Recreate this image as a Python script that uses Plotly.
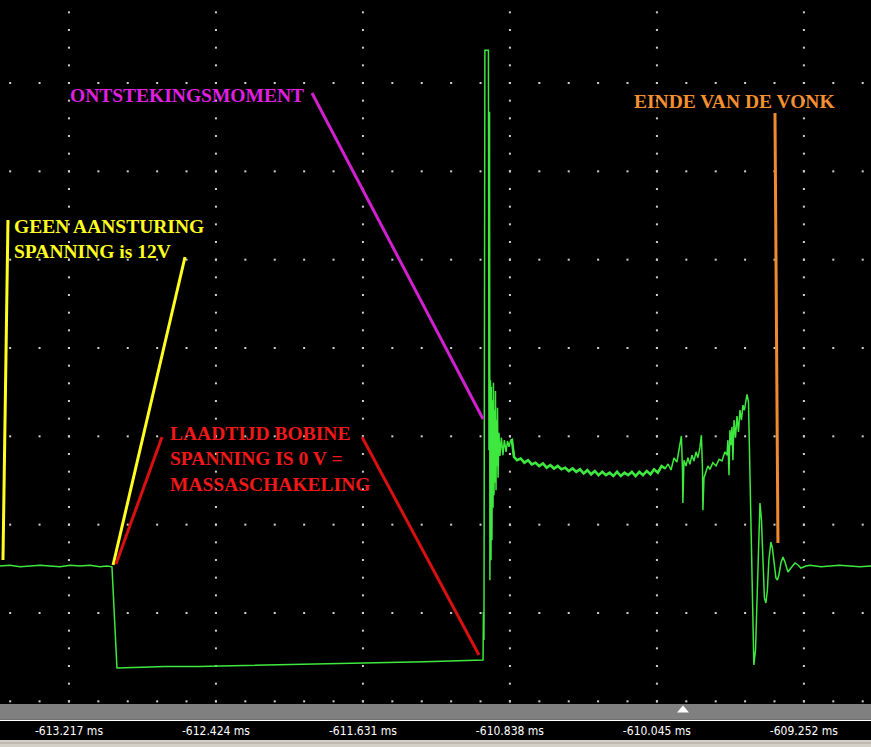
import numpy as np
import plotly.graph_objects as go

# ---------------- data (time in ms, voltage in V) ----------------
IDLE_T = [-613.589, -613.535, -613.481, -613.427, -613.373, -613.319, -613.265,
          -613.211, -613.157, -613.103, -613.050, -613.012, -612.985]
IDLE_V = [12.0, 12.1, 11.9, 12.0, 12.1, 12.0, 11.9, 12.1, 12.0, 12.1, 11.9, 12.0, 11.9]

DWELL_T = [-612.958, -612.900, -612.840, -612.780, -612.700, -612.600, -612.510,
           -612.400, -612.300, -612.240, -612.150, -612.050, -611.971, -611.850,
           -611.701, -611.600, -611.500, -611.431, -611.300, -611.161, -611.050, -610.989]
DWELL_V = [-0.24, -0.18, -0.10, -0.12, -0.06, -0.10, -0.06, 0.00, 0.04, 0.06, 0.10,
           0.12, 0.18, 0.22, 0.30, 0.34, 0.38, 0.42, 0.50, 0.60, 0.66, 0.72]

SPIKE_T = [-610.983, -610.981, -610.978, -610.973, -610.954, -610.951, -610.948,
           -610.946, -610.943, -610.940, -610.938, -610.935, -610.932, -610.929,
           -610.927, -610.924, -610.922, -610.919, -610.916, -610.913, -610.911,
           -610.908, -610.905, -610.902, -610.897, -610.892, -610.884, -610.876,
           -610.868, -610.859, -610.851, -610.843, -610.835, -610.827, -610.816]
SPIKE_V = [0.72, 6.48, 3.12, 73.9, 73.9, 25.9, 66.5, 10.3, 34.3, 12.7, 33.5, 15.1,
           31.9, 19.0, 34.0, 20.5, 30.7, 22.0, 33.0, 21.1, 29.5, 24.0, 31.0, 22.6,
           28.0, 25.2, 27.4, 25.3, 27.1, 25.7, 27.0, 26.3, 27.0, 27.1, 25.1]

BURN_T = [-610.80, -610.78, -610.76, -610.74, -610.72, -610.70, -610.68, -610.66,
          -610.64, -610.62, -610.60, -610.58, -610.56, -610.54, -610.52, -610.50,
          -610.48, -610.46, -610.44, -610.42, -610.40, -610.38, -610.36, -610.34,
          -610.32, -610.30, -610.28, -610.26, -610.24, -610.22, -610.20, -610.18,
          -610.16, -610.14, -610.12, -610.10, -610.08, -610.06, -610.04, -610.02, -610.00]
BURN_V = [24.7, 24.9, 24.4, 24.7, 24.2, 24.4, 24.0, 24.3, 23.8, 24.1, 23.7, 24.0,
          23.6, 23.8, 23.4, 23.7, 23.3, 23.6, 23.1, 23.5, 23.0, 23.4, 22.9, 23.3,
          22.9, 23.2, 22.8, 23.3, 22.8, 23.2, 22.9, 23.3, 22.8, 23.3, 22.9, 23.4,
          23.0, 23.6, 23.2, 24.0, 23.7]

END_T = [-609.985, -609.969, -609.953, -609.937, -609.921, -609.913, -609.907,
         -609.905, -609.899, -609.888, -609.878, -609.867, -609.856, -609.845,
         -609.834, -609.824, -609.813, -609.805, -609.799, -609.797, -609.791,
         -609.780, -609.770, -609.759, -609.743, -609.726, -609.710, -609.694,
         -609.678, -609.667, -609.662, -609.656, -609.651, -609.646, -609.640,
         -609.635, -609.629, -609.621, -609.613, -609.605, -609.597, -609.589,
         -609.581, -609.573, -609.565, -609.559, -609.551]
END_V = [24.24, 23.52, 24.96, 24.48, 26.52, 27.6, 23.5, 19.56, 24.7, 24.0, 25.0,
         24.2, 25.3, 24.6, 25.7, 25.0, 26.2, 27.7, 23.5, 18.7, 22.6, 23.5, 24.0,
         23.6, 24.4, 24.0, 24.8, 24.6, 25.7, 25.3, 27.1, 22.9, 28.3, 26.5, 28.7,
         24.7, 29.5, 27.4, 30.0, 28.1, 30.7, 29.5, 31.3, 30.7, 32.2, 32.6, 31.7]

RING_T = [-609.543, -609.538, -609.530, -609.522, -609.513, -609.505, -609.497,
          -609.489, -609.481, -609.473, -609.465, -609.457, -609.449, -609.441,
          -609.435, -609.430, -609.422, -609.411, -609.403, -609.395, -609.387,
          -609.376, -609.365, -609.354, -609.338, -609.322, -609.300, -609.284,
          -609.268, -609.241, -609.219, -609.160, -609.111, -609.060, -609.004,
          -608.950, -608.890]
RING_V = [23.52, 14.28, 6.72, 0.12, 1.92, 7.92, 16.32, 19.56, 17.52, 12.12, 8.16,
          7.56, 9.12, 12.72, 14.52, 14.88, 14.16, 11.76, 10.56, 10.32, 10.92, 12.36,
          13.08, 12.48, 11.28, 11.76, 12.36, 12.12, 11.76, 12.0, 12.1, 11.9, 12.0,
          12.1, 12.0, 11.9, 12.0]

TICK_VALS = [-613.217, -612.424, -611.631, -610.838, -610.045, -609.252]
TICK_TEXT = ["-613.217 ms", "-612.424 ms", "-611.631 ms", "-610.838 ms",
             "-610.045 ms", "-609.252 ms"]

LABELS = [
    ("ONTSTEKINGSMOMENT", -613.222, 68.5, "#e020e0"),
    ("EINDE VAN DE VONK", -610.180, 67.8, "#f59030"),
    ("GEEN AANSTURING<br>SPANNING is 12V", -613.524, 51.2, "#ffff20"),
    ("LAADTIJD BOBINE<br>SPANNING IS 0 V =<br>MASSASCHAKELING", -612.683, 24.8, "#f01818"),
]
CALLOUTS = [  # (t0, v0, t1, v1, colour)
    (-613.546, 53.52, -613.573, 12.72, "#ffff20"),
    (-612.591, 49.08, -612.979, 12.12, "#ffff20"),
    (-612.715, 27.48, -612.963, 12.24, "#d81010"),
    (-611.636, 27.48, -611.005, 1.32, "#d81010"),
    (-611.906, 68.76, -610.983, 29.64, "#d020d0"),
    (-609.408, 66.36, -609.392, 14.76, "#f08a30"),
]

# ---------------- layout constants ----------------
X_RANGE = [-613.589, -608.890]
Y_RANGE = [-4.44, 79.92]
X_DIV = 0.793
Y_DIV = 10.6
Y_ROW0 = 69.96

trace_t = IDLE_T + DWELL_T + SPIKE_T + BURN_T + END_T + RING_T
trace_v = IDLE_V + DWELL_V + SPIKE_V + BURN_V + END_V + RING_V

# grid dots
x_major = np.arange(TICK_VALS[0] - X_DIV, X_RANGE[1] + 1e-9, X_DIV)
y_major = Y_ROW0 - Y_DIV * np.arange(-1, 9)
gx, gy = [], []
xs_minor = np.arange(TICK_VALS[0] - X_DIV, X_RANGE[1], X_DIV / 5)
for yv in y_major:
    if Y_RANGE[0] <= yv <= Y_RANGE[1]:
        for xv in xs_minor:
            if X_RANGE[0] <= xv <= X_RANGE[1]:
                gx.append(xv); gy.append(yv)
ys_minor = np.arange(Y_ROW0 + Y_DIV, Y_RANGE[0] - 1, -Y_DIV / 5)
for xv in x_major:
    if X_RANGE[0] <= xv <= X_RANGE[1]:
        for yv in ys_minor:
            if Y_RANGE[0] <= yv <= Y_RANGE[1]:
                gx.append(xv); gy.append(yv)

GREEN = "#3ee83e"
fig = go.Figure()
fig.add_trace(go.Scatter(x=gx, y=gy, mode="markers",
                         marker=dict(symbol="square", size=2, color="#d0d0d0"),
                         hoverinfo="skip"))
fig.add_trace(go.Scatter(x=trace_t, y=trace_v, mode="lines",
                         line=dict(color=GREEN, width=1.5),
                         hoverinfo="skip"))
# thick, noisy burn band overlay
fig.add_trace(go.Scatter(x=SPIKE_T[-3:] + BURN_T, y=SPIKE_V[-3:] + BURN_V, mode="lines",
                         line=dict(color=GREEN, width=2.6),
                         hoverinfo="skip"))

for t0, v0, t1, v1, c in CALLOUTS:
    fig.add_shape(type="line", x0=t0, y0=v0, x1=t1, y1=v1, xref="x", yref="y",
                  line=dict(color=c, width=3))

for txt, t, v, c in LABELS:
    fig.add_annotation(x=t, y=v, xref="x", yref="y", text=txt, showarrow=False,
                       xanchor="left", yanchor="middle", align="left",
                       font=dict(family="Liberation Serif, Times New Roman, serif",
                                 size=19.5, color=c, weight="bold"))

H = 703.0
def py(px):
    return (H - px) / H

# bottom status bar
fig.add_shape(type="rect", xref="paper", yref="paper", x0=0, x1=1,
              y0=py(719.5), y1=py(704), fillcolor="#808080", line=dict(width=0),
              layer="above")
fig.add_shape(type="line", xref="paper", yref="paper", x0=0, x1=1,
              y0=py(720.3), y1=py(720.3), line=dict(color="#ffffff", width=1.2))
fig.add_shape(type="rect", xref="paper", yref="paper", x0=0, x1=1,
              y0=py(747), y1=py(740), fillcolor="#d4d0c8", line=dict(width=0))
fig.add_shape(type="line", xref="paper", yref="paper", x0=0, x1=1,
              y0=py(743), y1=py(743), line=dict(color="#a8a49c", width=1))
fig.add_shape(type="path", xref="paper", yref="paper",
              path=f"M {677/871} {py(712.5)} L {689/871} {py(712.5)} L {683/871} {py(705.5)} Z",
              fillcolor="#ffffff", line=dict(width=0))

fig.update_layout(
    width=871, height=747,
    margin=dict(l=0, r=0, t=0, b=44),
    paper_bgcolor="#000000", plot_bgcolor="#000000",
    showlegend=False, hovermode=False,
    xaxis=dict(range=X_RANGE, tickvals=TICK_VALS, ticktext=TICK_TEXT,
               showgrid=False, zeroline=False, showline=False, ticks="",
               ticklabelstandoff=19,
               tickfont=dict(family="Liberation Sans Narrow, DejaVu Sans Condensed, Arial Narrow, sans-serif",
                             size=12, color="#ffffff")),
    yaxis=dict(range=Y_RANGE, showgrid=False, zeroline=False, showline=False,
               showticklabels=False, ticks=""),
)

fig.write_html("out.html", config={"displayModeBar": False},
               post_script="document.body.style.margin='0px';document.body.style.background='#000';")
